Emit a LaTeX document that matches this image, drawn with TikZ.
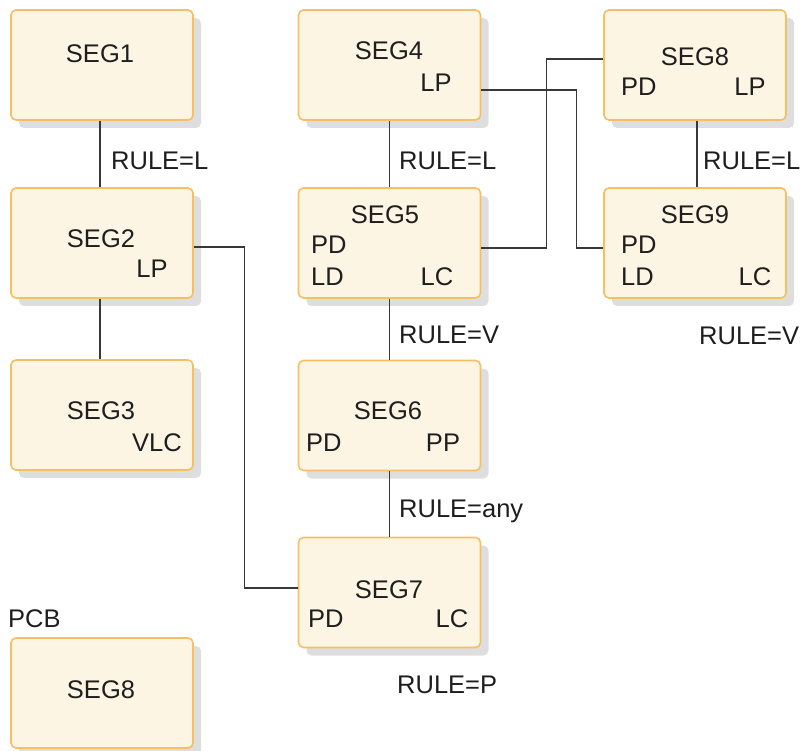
\documentclass[tikz,border=0pt]{standalone}
\usepackage{fontspec}
\setmainfont{Liberation Sans}
\usetikzlibrary{shadows}
\definecolor{boxfill}{HTML}{FDF5E4}
\definecolor{boxline}{HTML}{F5BF63}
\definecolor{linecol}{HTML}{383838}
\definecolor{txtcol}{HTML}{1E1E1E}
\begin{document}
\begin{tikzpicture}[x=1pt,y=-1pt,
  segbox/.style={draw=boxline, fill=boxfill, line width=1.6pt, rounded corners=5pt,
    minimum width=182pt, minimum height=110pt, inner sep=0pt,
    drop shadow={shadow xshift=8pt, shadow yshift=-8pt, fill=black!13, opacity=1}},
  txt/.style={font=\fontsize{25.5}{30}\selectfont, text=txtcol, inner sep=0pt},
  conn/.style={draw=linecol, line width=1.4pt}]
\useasboundingbox (0,0) rectangle (806,751);
\newcommand\tx[4]{\node[txt,anchor=base] (#1) at (#2,#3+9.2) {#4};}
\newcommand\tw[4]{\node[txt,anchor=base west] (#1) at (#2,#3+9.2) {#4};}
% boxes
\node[segbox] (s1) at (102,65) {};
\node[segbox] (s2) at (102,243) {};
\node[segbox] (s3) at (102,415) {};
\node[segbox] (s10) at (102,693) {};
\node[segbox] (s4) at (389.5,65) {};
\node[segbox] (s5) at (389.5,243) {};
\node[segbox] (s6) at (389.5,415.5) {};
\node[segbox] (s7) at (389.5,592.5) {};
\node[segbox] (s8) at (695,65) {};
\node[segbox] (s9) at (695,243) {};
% texts
\tx{t1}{100}{53}{SEG1}
\tx{t2}{101}{238}{SEG2}
\tx{t2a}{152}{268}{LP}
\tx{t3}{101}{410}{SEG3}
\tx{t3a}{157}{442}{VLC}
\tx{t10}{101}{689}{SEG8}
\tw{pcb}{8}{618}{PCB}
\tx{t4}{389}{50}{SEG4}
\tx{t4a}{436}{82}{LP}
\tx{t5}{385}{214}{SEG5}
\tw{t5a}{311}{244}{PD}
\tw{t5b}{311}{276}{LD}
\tx{t5c}{437}{276}{LC}
\tx{t6}{388}{410}{SEG6}
\tw{t6a}{306}{442}{PD}
\tx{t6b}{443}{442}{PP}
\tx{t7}{389}{589}{SEG7}
\tw{t7a}{308}{618}{PD}
\tx{t7b}{452}{618}{LC}
\tx{t8}{695}{56}{SEG8}
\tw{t8a}{621}{86}{PD}
\tx{t8b}{750}{86}{LP}
\tx{t9}{695}{214}{SEG9}
\tw{t9a}{621}{244}{PD}
\tw{t9b}{621}{276}{LD}
\tx{t9c}{755}{276}{LC}
% rule labels
\tw{r1}{111}{160}{RULE=L}
\tw{r2}{399}{160}{RULE=L}
\tw{r3}{703}{160}{RULE=L}
\tw{r4}{399}{334}{RULE=V}
\tw{r5}{699}{335}{RULE=V}
\tw{r6}{399}{508}{RULE=any}
\tw{r7}{397}{684}{RULE=P}
% connectors
\draw[conn] ([xshift=-2pt]s1.south) -- ([xshift=-2pt]s2.north);
\draw[conn] ([xshift=-2pt]s2.south) -- ([xshift=-2pt]s3.north);
\draw[conn] (s4.south) -- (s5.north);
\draw[conn] (s5.south) -- (s6.north);
\draw[conn] (s6.south) -- (s7.north);
\draw[conn] ([xshift=2pt]s8.south) -- ([xshift=2pt]s9.north);
\draw[conn] ([yshift=-4pt]s2.east) -| ([xshift=-53pt,yshift=4.5pt]s7.west) -- ([yshift=4.5pt]s7.west);
\draw[conn] ([yshift=-25pt]s4.east) -| ([xshift=-27pt,yshift=-5pt]s9.west) -- ([yshift=-5pt]s9.west);
\draw[conn] ([yshift=-5pt]s5.east) -| ([xshift=-57pt,yshift=6pt]s8.west) -- ([yshift=6pt]s8.west);
\end{tikzpicture}
\end{document}
